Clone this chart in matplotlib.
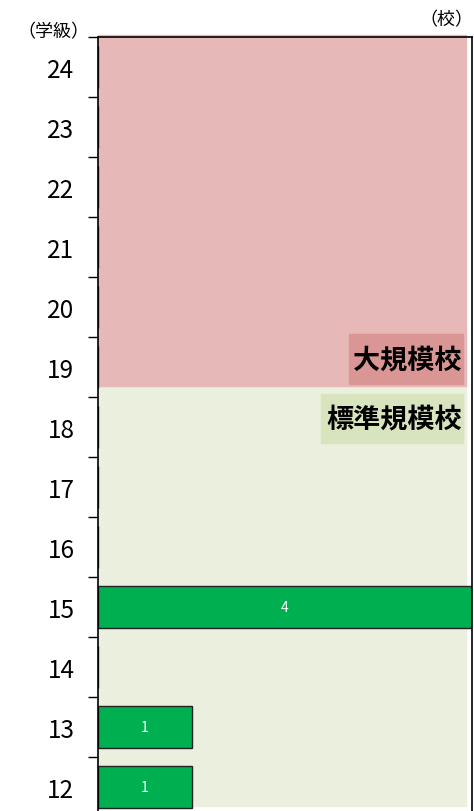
import matplotlib.pyplot as plt
from matplotlib.patches import Rectangle

plt.rcParams['font.family'] = ['Noto Sans CJK JP', 'DejaVu Sans']

# data
classes = [12, 13, 14, 15, 16, 17, 18, 19, 20, 21, 22, 23, 24]
schools = [1, 1, 0, 4, 0, 0, 0, 0, 0, 0, 0, 0, 0]
zone_labels = ['標準規模校', '大規模校']

fig = plt.figure(figsize=(4.74, 8.12), dpi=100)
ax = fig.add_axes([98 / 474, -6 / 812, 374 / 474, 780 / 812])
yx = ax.get_yaxis_transform()

# background zones
ax.add_patch(Rectangle((0, 11.683), 3.936, 18.683 - 11.683, color='#EBEFDE', zorder=0))
ax.add_patch(Rectangle((0, 18.683), 3.936, 24.533 - 18.683, color='#E6B8B7', zorder=0,
                       clip_on=False))

# bars
bars = ax.barh(classes, schools, height=0.7, color='#00B050', edgecolor='#222222',
               linewidth=1, zorder=2)
for b, v in zip(bars, schools):
    if v > 0:
        ax.text(v / 2, b.get_y() + b.get_height() / 2, str(v), color='white',
                ha='center', va='center', fontsize=10, zorder=3)

ax.set_xlim(0, 4)
ax.set_ylim(11.5, 24.5)
ax.set_yticks(classes)
ax.set_yticklabels([str(c) for c in classes], fontsize=17.5)
ax.set_yticks([c + 0.5 for c in classes], minor=True)
ax.tick_params(axis='y', which='major', length=0, pad=17)
ax.tick_params(axis='y', which='minor', length=7, width=1, direction='out')
ax.set_xticks([])
for s in ax.spines.values():
    s.set_linewidth(1.2)
    s.set_zorder(4)

# zone labels
ax.add_patch(Rectangle((0.596, 17.733), 0.38, 18.55 - 17.733, transform=yx,
                       color='#D7E4BD', zorder=4))
ax.add_patch(Rectangle((0.671, 18.717), 0.305, 19.55 - 18.717, transform=yx,
                       color='#D99694', zorder=4))
ax.text(0.972, 18.14, zone_labels[0], transform=yx, ha='right', va='center',
        fontsize=19.5, fontweight='bold', zorder=5)
ax.text(0.972, 19.13, zone_labels[1], transform=yx, ha='right', va='center',
        fontsize=19.5, fontweight='bold', zorder=5)

# axis unit labels
fig.text(53 / 474, 1 - 32 / 812, '（学級）', ha='center', va='center', fontsize=13)
fig.text(446 / 474, 1 - 20 / 812, '（校）', ha='center', va='center', fontsize=13)

fig.savefig('out.png', dpi=100)
